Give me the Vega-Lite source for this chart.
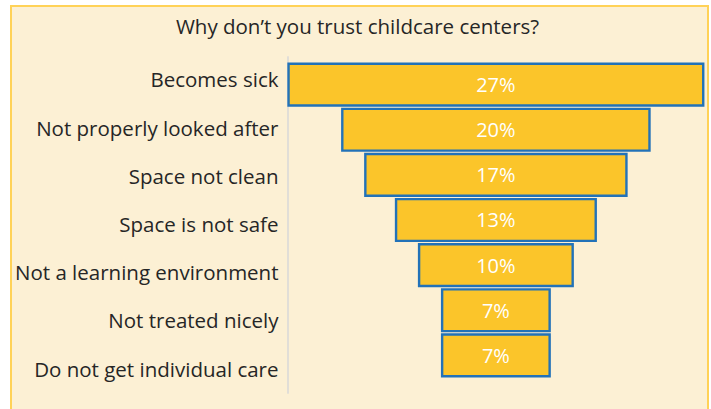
{
  "$schema": "https://vega.github.io/schema/vega-lite/v6.json",
  "width": 697,
  "height": 406,
  "autosize": {"type": "none"},
  "padding": {"left": 11, "top": 6, "right": 3, "bottom": 0},
  "background": "#ffffff",
  "config": {
    "view": {"fill": "#FCF0D4", "stroke": "#FFD257", "strokeWidth": 2},
    "font": "Open Sans"
  },
  "title": {
    "text": "Why don’t you trust childcare centers?",
    "anchor": "middle",
    "orient": "top",
    "offset": -27,
    "dy": 21,
    "baseline": "alphabetic",
    "fontSize": 20.5,
    "fontWeight": "normal",
    "color": "#262626",
    "font": "Open Sans",
    "dx": -2
  },
  "data": {
    "values": [
      {"reason": "Becomes sick", "pct": 0.27},
      {"reason": "Not properly looked after", "pct": 0.20},
      {"reason": "Space not clean", "pct": 0.17},
      {"reason": "Space is not safe", "pct": 0.13},
      {"reason": "Not a learning environment", "pct": 0.10},
      {"reason": "Not treated nicely", "pct": 0.07},
      {"reason": "Do not get individual care", "pct": 0.07}
    ]
  },
  "resolve": {"scale": {"y": "independent"}},
  "layer": [
    {
      "mark": {"type": "bar", "fill": "#FBC52A", "stroke": "#2272B8", "strokeWidth": 2.4},
      "encoding": {
        "y": {
          "field": "reason", "type": "nominal", "sort": null,
          "scale": {"type": "band", "range": [49.7, 387.3], "paddingInner": 0.075, "paddingOuter": 0.277, "align": 0.32},
          "axis": null
        },
        "x": {
          "field": "pct", "type": "quantitative", "stack": "center",
          "scale": {"domain": [-0.1807, 0.2731], "nice": false, "zero": false},
          "axis": null
        }
      }
    },
    {
      "mark": {"type": "text", "color": "#ffffff", "fontSize": 20, "dy": 1.5, "font": "Open Sans"},
      "encoding": {
        "y": {
          "field": "reason", "type": "nominal", "sort": null,
          "scale": {"type": "band", "range": [49.7, 387.3], "paddingInner": 0.075, "paddingOuter": 0.277, "align": 0.32},
          "axis": null
        },
        "x": {"datum": 0.135},
        "text": {"field": "pct", "type": "quantitative", "format": ".0%"}
      }
    },
    {
      "mark": {"type": "point", "opacity": 0},
      "encoding": {
        "y": {
          "field": "reason", "type": "nominal", "sort": null,
          "scale": {"type": "band", "range": [49.7, 387.3], "paddingInner": 0, "paddingOuter": 0},
          "axis": {
            "orient": "left", "offset": -276.5, "title": null, "ticks": false,
            "labelPadding": 9.5, "labelFontSize": 20.5, "labelColor": "#262626",
            "domainColor": "#D9D9D9", "domainWidth": 1.5, "labelFont": "Open Sans",
            "labelLimit": 0, "labelOffset": 1.5
          }
        },
        "x": {"datum": 0}
      }
    }
  ]
}
